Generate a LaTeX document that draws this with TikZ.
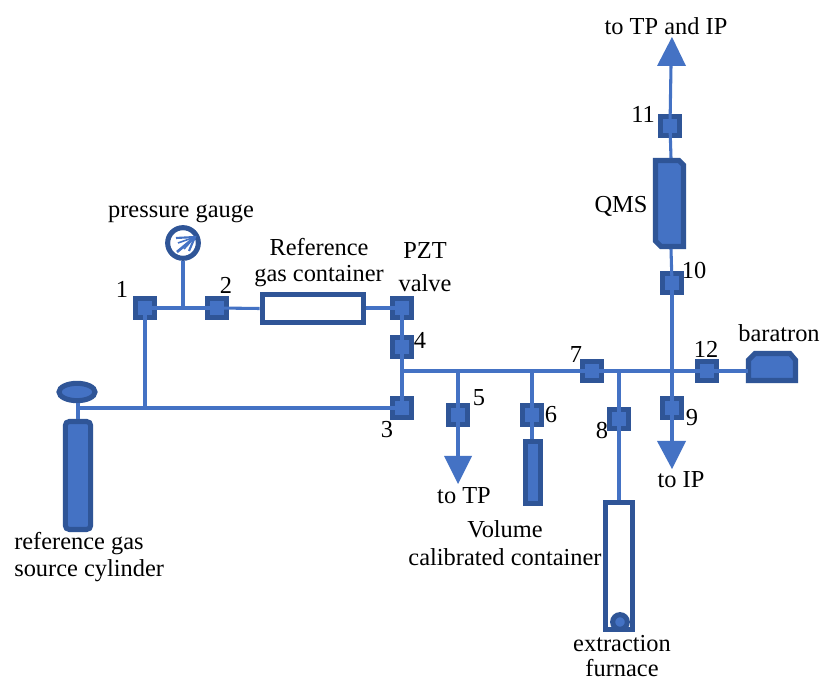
\documentclass[tikz,border=0pt]{standalone}
\usepackage{fontspec}
\usetikzlibrary{shapes.geometric}
\setmainfont{Liberation Serif}
\definecolor{pipe}{HTML}{4472C4}
\definecolor{dark}{HTML}{2F5597}
\begin{document}
\begin{tikzpicture}[x=0.75pt,y=-0.75pt,
  lbl/.style={inner sep=0pt,font=\fontsize{18.3pt}{21pt}\selectfont,text=black},
  vlv/.style={draw=dark,fill=pipe,line width=3.8pt,minimum size=13.8pt,inner sep=0pt,shape=rectangle},
  pipeline/.style={draw=pipe,line width=2.3pt},
  solid part/.style={draw=dark,fill=pipe,line width=3.8pt,line join=miter},
  hollow/.style={draw=dark,fill=white,line width=4pt},
  arrowhd/.style={fill=pipe,draw=none}]
\useasboundingbox[fill=white] (0,0) rectangle (822,680);
% equipment
\node[hollow,minimum width=76pt,minimum height=21pt,inner sep=0pt] (cont) at (313,308.5) {};
\node[hollow,minimum width=20pt,minimum height=95.5pt,inner sep=0pt] (furn) at (619,566) {};
\node[circle,solid part,minimum size=11pt,inner sep=0pt] (ball) at (620,622) {};
\node[circle,draw=dark,fill=white,line width=3.8pt,minimum size=23pt,inner sep=0pt] (gauge) at (183,243) {};
\node[ellipse,solid part,minimum width=27pt,minimum height=13pt,inner sep=0pt] (head) at (77,392) {};
\node[rectangle,rounded corners=3pt,solid part,minimum width=19pt,minimum height=81pt,inner sep=0pt] (cyl) at (78,475.5) {};
\node[rectangle,solid part,minimum width=11.5pt,minimum height=46pt,inner sep=0pt] (vol) at (533,472.5) {};
\filldraw[solid part] (655.5,160.5) -- (679,160.5) -- (683.5,165) -- (683.5,246.5) -- (661,246.5) -- (655.5,241) -- cycle;
\coordinate (qmsT) at (671,158);
\coordinate (qmsB) at (671,249);
\filldraw[solid part] (748.5,380.5) -- (748.5,360) -- (755,353.5) -- (790,353.5) -- (795.5,360) -- (795.5,380.5) -- cycle;
\coordinate (bar) at (748,371);
% valves
\node[vlv] (v1) at (145,308) {};
\node[vlv] (v2) at (217,308) {};
\node[vlv] (vp) at (402,308) {};
\node[vlv] (v4) at (402,347) {};
\node[vlv] (v3) at (402,408) {};
\node[vlv] (v5) at (458,415) {};
\node[vlv] (v6) at (532,415) {};
\node[vlv] (v7) at (592,371) {};
\node[vlv] (v8) at (619,419) {};
\node[vlv] (v9) at (672,408) {};
\node[vlv] (v10) at (672,283) {};
\node[vlv] (v11) at (670,126) {};
\node[vlv] (v12) at (707,371) {};
% junctions
\coordinate (j1) at (145,408);
\coordinate (jg) at (183,308);
\coordinate (j4) at (402,371);
\coordinate (j5) at (458,371);
\coordinate (j6) at (532,371);
\coordinate (j8) at (619,371);
\coordinate (j9) at (672,371);
\coordinate (js) at (78,408);
% arrowheads
\fill[arrowhd] (672,37) -- (686,66) -- (657,66) -- cycle;
\coordinate (topA) at (671,66);
\fill[arrowhd] (672,469) -- (657,441) -- (686,441) -- cycle;
\coordinate (ipA) at (672,441);
\fill[arrowhd] (458,484) -- (444,456) -- (472,456) -- cycle;
\coordinate (tpA) at (458,456);
% pipes
\draw[pipeline] (head.south -| js) -- (js |- cyl.north);
\draw[pipeline] (js) -- (v3.center);
\draw[pipeline] (j1) -- (v1.center);
\draw[pipeline] (v1.center) -- (v2.center);
\draw[pipeline] (gauge.south) -- (jg);
\draw[pipeline] (v2.center) -- (cont.west);
\draw[pipeline] (cont.east |- vp.center) -- (vp.center);
\draw[pipeline] (vp.center) -- (v4.center);
\draw[pipeline] (v4.center) -- (v3.center);
\draw[pipeline] (j4) -- (v7.center);
\draw[pipeline] (v7.center) -- (v12.center);
\draw[pipeline] (v12.center) -- (bar);
\draw[pipeline] (j5) -- (v5.center);
\draw[pipeline] (v5.center) -- (tpA);
\draw[pipeline] (j6) -- (v6.center);
\draw[pipeline] (v6.center) -- (v6 |- vol.north);
\draw[pipeline] (j8) -- (v8.center);
\draw[pipeline] (v8.center) -- (furn.north);
\draw[pipeline] (v10.center) -- (j9);
\draw[pipeline] (j9) -- (v9.center);
\draw[pipeline] (v9.center) -- (ipA);
\draw[pipeline] (qmsB) -- (v10.center);
\draw[pipeline] (v11.center) -- (qmsT);
\draw[pipeline] (topA) -- (v11.center);
% gauge needle
\draw[pipe,line width=2pt] (177,252) -- (195,237);
\draw[pipe,line width=1.6pt] (176,238) -- (195,237) -- (189,251);
\draw[pipe,line width=1.2pt] (178,243) -- (195,237);
\draw[pipe,line width=1.2pt] (184,249) -- (195,237);
% labels
\node[lbl] (t1) at (181,214) {pressure gauge};
\node[lbl] (t2) at (319,247) {Reference};
\node[lbl] (t3) at (319,276) {gas container};
\node[lbl] (t4) at (425,251) {PZT};
\node[lbl] (t5) at (425,283) {valve};
\node[lbl] at (122,289) {1};
\node[lbl] at (226,285) {2};
\node[lbl] at (387,430) {3};
\node[lbl] at (420,340) {4};
\node[lbl] at (479,398) {5};
\node[lbl] at (551,415) {6};
\node[lbl] at (576,355) {7};
\node[lbl] at (602,431) {8};
\node[lbl] at (692,418) {9};
\node[lbl] at (694,271) {10};
\node[lbl] at (643,114) {11};
\node[lbl] at (706,349) {12};
\node[lbl] at (621,206) {QMS};
\node[lbl] at (779,333) {baratron};
\node[lbl] at (666,26) {to TP and IP};
\node[lbl] at (464,496) {to TP};
\node[lbl] at (681,480) {to IP};
\node[lbl] at (505,529) {Volume};
\node[lbl] at (505,557) {calibrated container};
\node[lbl,anchor=west] at (14,544) {reference gas};
\node[lbl,anchor=west] at (14,571) {source cylinder};
\node[lbl] at (622,644) {extraction};
\node[lbl] at (622,668) {furnace};
\end{tikzpicture}
\end{document}
